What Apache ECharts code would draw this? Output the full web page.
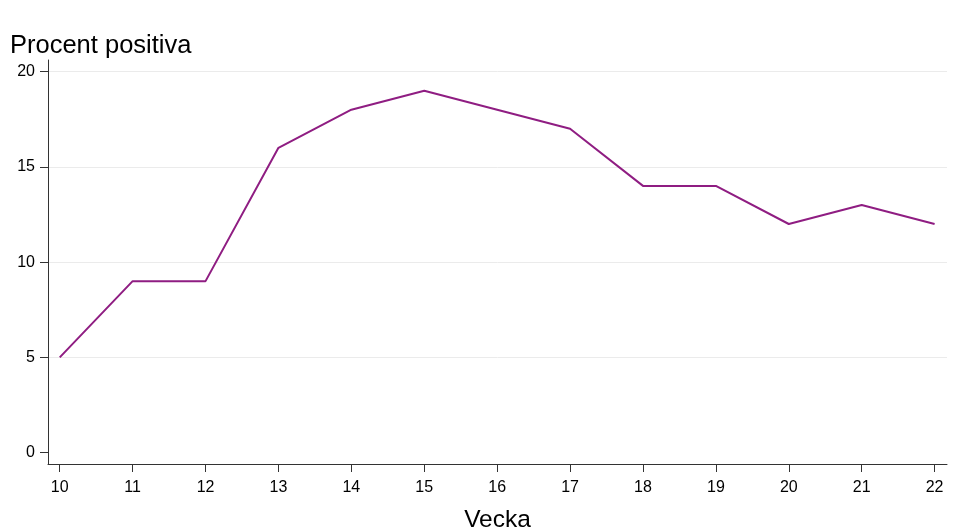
<!DOCTYPE html>
<html>
<head>
<meta charset="utf-8">
<script src="https://cdn.jsdelivr.net/npm/echarts@6/dist/echarts.min.js"></script>
<style>
  html, body { margin: 0; padding: 0; background: #fff; }
  #chart { width: 953px; height: 532px; }
</style>
</head>
<body>
<div id="chart"></div>
<script>
const weeks = [10, 11, 12, 13, 14, 15, 16, 17, 18, 19, 20, 21, 22];
const percentPositive = [5, 9, 9, 16, 18, 19, 18, 17, 14, 14, 12, 13, 12];
const yTicks = [0, 5, 10, 15, 20];

const chart = echarts.init(document.getElementById('chart'));
const font = 'Liberation Sans, Arial, sans-serif';

const option = {
  animation: false,
  title: {
    text: 'Procent positiva',
    left: 5,
    top: 28,
    textStyle: { fontFamily: font, fontSize: 25.5, fontWeight: 'normal', color: '#000' }
  },
  grid: { left: 48, right: 6, top: 60, bottom: 68, outerBoundsMode: 'none' },
  xAxis: {
    type: 'value',
    min: 9.839,
    max: 22.17,
    name: 'Vecka',
    nameLocation: 'middle',
    nameGap: 44,
    nameTextStyle: { fontFamily: font, fontSize: 24.5, color: '#000' },
    axisLine: { onZero: false, lineStyle: { color: '#333', width: 1 } },
    axisTick: { show: true, length: 8, customValues: weeks, lineStyle: { color: '#333' } },
    axisLabel: { customValues: weeks, margin: 16, fontFamily: font, fontSize: 16, color: '#000' },
    splitLine: { show: false }
  },
  yAxis: {
    type: 'value',
    min: -0.6,
    max: 20.61,
    axisLine: { show: true, onZero: false, lineStyle: { color: '#333', width: 1 } },
    axisTick: { show: true, length: 8, customValues: yTicks, lineStyle: { color: '#333' } },
    axisLabel: { customValues: yTicks, margin: 13, fontFamily: font, fontSize: 16, color: '#000' },
    // no gridline at 0, light lines at 5..20
    splitLine: { show: true, lineStyle: { color: ['rgba(0,0,0,0)', '#ebebeb', '#ebebeb', '#ebebeb', '#ebebeb'], width: 1 } }
  },
  series: [
    {
      type: 'line',
      data: weeks.map((w, i) => [w, percentPositive[i]]),
      showSymbol: false,
      lineStyle: { color: '#8f1d82', width: 2 },
      itemStyle: { color: '#8f1d82' }
    }
  ]
};
chart.setOption(option);
</script>
</body>
</html>
